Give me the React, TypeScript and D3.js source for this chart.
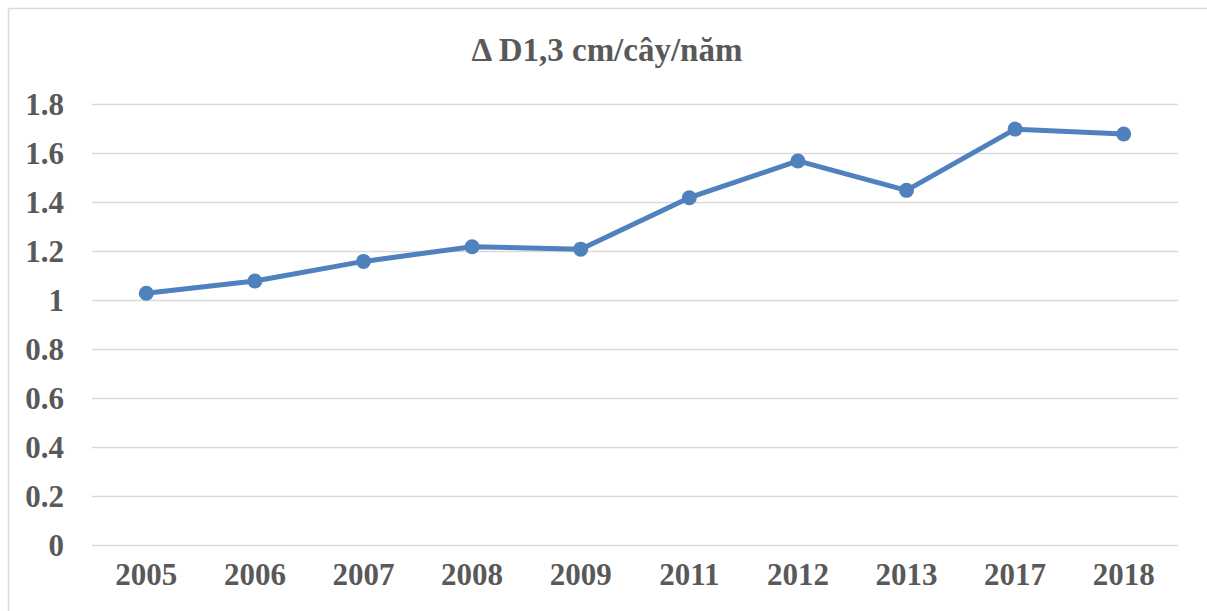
import React from "react";
import * as d3 from "d3";

const years = ["2005", "2006", "2007", "2008", "2009", "2011", "2012", "2013", "2017", "2018"];
const values = [1.03, 1.08, 1.16, 1.22, 1.21, 1.42, 1.57, 1.45, 1.7, 1.68];
const yTicks = [0, 0.2, 0.4, 0.6, 0.8, 1, 1.2, 1.4, 1.6, 1.8];
const title = "Δ D1,3 cm/cây/năm";

const W = 1207;
const H = 611;
const left = 92;
const right = 1178;
const top = 104.6;
const bottom = 545.6;
const textColor = "#595959";
const lineColor = "#4f81bd";
const font = "'Liberation Serif', 'Times New Roman', serif";

export default function App() {
  const x = d3.scaleBand<string>().domain(years).range([left, right]);
  const y = d3.scaleLinear().domain([0, 1.8]).range([bottom, top]);
  const cx = (i: number) => x(years[i])! + x.bandwidth() / 2;

  const line = d3
    .line<number>()
    .x((_, i) => cx(i))
    .y((d) => y(d));

  return (
    <svg
      width={W}
      height={H}
      style={{ position: "absolute", left: 0, top: 0, background: "#fff" }}
      fontFamily={font}
      fontWeight="bold"
    >
      {/* chart frame: only top and left edges show in the picture */}
      <line x1={8.5} x2={W} y1={8.5} y2={8.5} stroke="#d9d9d9" strokeWidth={1.5} />
      <line x1={8.5} x2={8.5} y1={8.5} y2={H} stroke="#d9d9d9" strokeWidth={1.5} />

      <text x={607} y={61} textAnchor="middle" fontSize={33} fill={textColor}>
        {title}
      </text>

      {yTicks.map((t) => (
        <g key={t}>
          <line x1={left} x2={right} y1={y(t)} y2={y(t)} stroke="#d9d9d9" strokeWidth={1.5} />
          <text x={64} y={y(t) + 10.5} textAnchor="end" fontSize={31} fill={textColor}>
            {d3.format("~g")(t)}
          </text>
        </g>
      ))}

      {years.map((yr) => (
        <text key={yr} x={x(yr)! + x.bandwidth() / 2} y={585} textAnchor="middle" fontSize={31} fill={textColor}>
          {yr}
        </text>
      ))}

      <path d={line(values) ?? ""} fill="none" stroke={lineColor} strokeWidth={5} strokeLinejoin="round" strokeLinecap="round" />
      {values.map((v, i) => (
        <circle key={i} cx={cx(i)} cy={y(v)} r={7.5} fill={lineColor} />
      ))}
    </svg>
  );
}
